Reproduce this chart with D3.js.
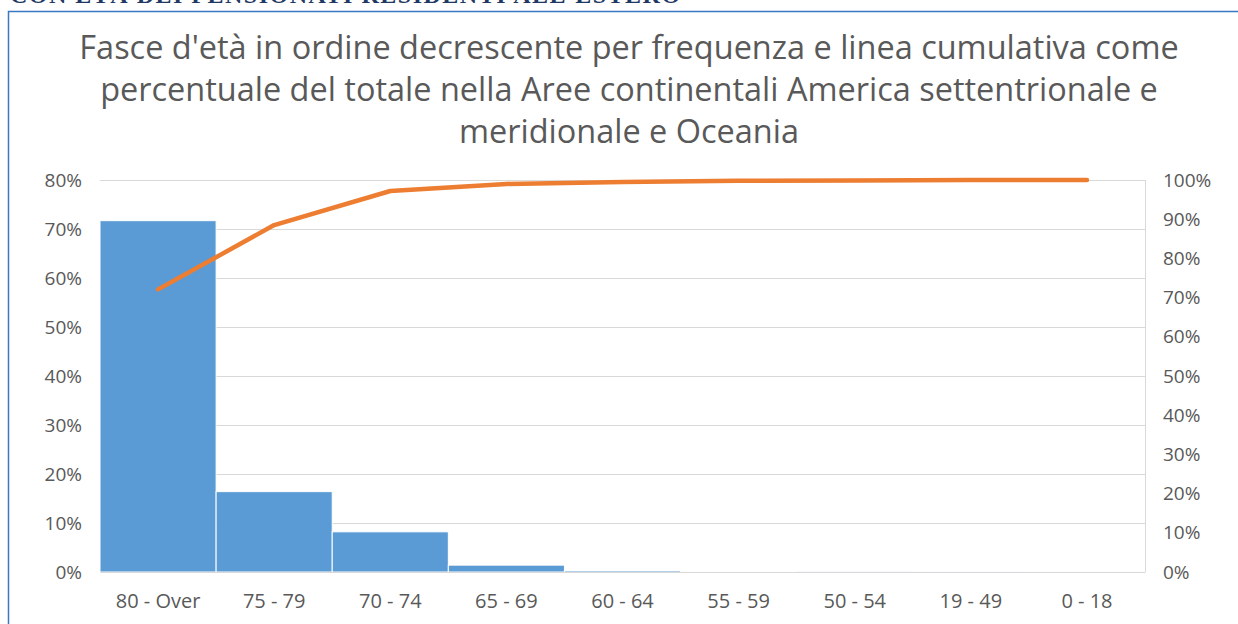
<!DOCTYPE html>
<html>
<head>
<meta charset="utf-8">
<script src="https://cdn.jsdelivr.net/npm/d3@7"></script>
<style>
  html, body { margin: 0; padding: 0; background: #fff; }
  svg { display: block; }
</style>
</head>
<body>
<svg id="chart" width="1238" height="624"></svg>
<script>
// Age bands, ordered by decreasing frequency
const categories = ["80 - Over", "75 - 79", "70 - 74", "65 - 69", "60 - 64", "55 - 59", "50 - 54", "19 - 49", "0 - 18"];
// Share of total per band (%)
const shareValues = [71.7, 16.4, 8.2, 1.4, 0.3, 0.1, 0.05, 0.02, 0.01];
// Cumulative share (%)
const cumulativeValues = [72.1, 88.5, 97.2, 99.0, 99.5, 99.8, 99.9, 100, 100];
// Axis ticks
const leftTicks = [0, 10, 20, 30, 40, 50, 60, 70, 80];
const rightTicks = [0, 10, 20, 30, 40, 50, 60, 70, 80, 90, 100];

const titleLines = [
  "Fasce d'età in ordine decrescente per frequenza e linea cumulativa come",
  "percentuale del totale nella Aree continentali America settentrionale e",
  "meridionale e Oceania"
];

const svg = d3.select("#chart");
const FONT = "'Open Sans', 'Noto Sans', sans-serif";
const GREY = "#595959";

// Page heading, running off the top edge
svg.append("text")
  .attr("x", 10).attr("y", 3)
  .attr("font-family", "'Liberation Serif', serif")
  .attr("font-weight", "bold")
  .attr("font-size", 24)
  .attr("letter-spacing", 1.5)
  .attr("fill", "#1f3864")
  .text("CON ETÀ DEI PENSIONATI RESIDENTI ALL'ESTERO");

// Chart frame
svg.append("rect")
  .attr("x", 8.5).attr("y", 11.5)
  .attr("width", 1300).attr("height", 700)
  .attr("fill", "#fff")
  .attr("stroke", "#3a78c0")
  .attr("stroke-width", 1.5);

// Title
const title = svg.append("g");
const titleSize = 26;
titleLines.forEach((t, i) => {
  title.append("text")
    .attr("x", 629).attr("y", 59 + i * 42)
    .attr("text-anchor", "middle")
    .attr("font-family", FONT)
    .attr("font-size", titleSize)
    .attr("fill", GREY)
    .text(t);
});
// fit first line to its intended width
const first = title.select("text").node();
const w = first.getComputedTextLength();
const fs = titleSize * 1100 / w;
title.selectAll("text").attr("font-size", fs);

// Plot geometry
const plot = { left: 100, right: 1145, top: 180, bottom: 572 };

const x = d3.scaleBand()
  .domain(categories)
  .range([plot.left, plot.right])
  .paddingInner(0).paddingOuter(0);

const yLeft = d3.scaleLinear().domain([0, 80]).range([plot.bottom, plot.top]);
const yRight = d3.scaleLinear().domain([0, 100]).range([plot.bottom, plot.top]);

// Gridlines
svg.append("g")
  .selectAll("line")
  .data(leftTicks)
  .join("line")
  .attr("x1", plot.left).attr("x2", plot.right)
  .attr("y1", d => Math.round(yLeft(d)) + 0.5)
  .attr("y2", d => Math.round(yLeft(d)) + 0.5)
  .attr("stroke", "#d9d9d9")
  .attr("stroke-width", 1);

// Right plot edge
svg.append("line")
  .attr("x1", plot.right + 0.5).attr("x2", plot.right + 0.5)
  .attr("y1", plot.top).attr("y2", plot.bottom)
  .attr("stroke", "#d9d9d9");

// Bars
svg.append("g")
  .selectAll("rect")
  .data(categories.map((c, i) => ({ c, v: shareValues[i] })))
  .join("rect")
  .attr("x", d => x(d.c))
  .attr("width", x.bandwidth())
  .attr("y", d => yLeft(d.v))
  .attr("height", d => yLeft(0) - yLeft(d.v))
  .attr("fill", "#5b9bd5")
  .attr("stroke", "#ffffff")
  .attr("stroke-width", 1);

const TICK_SIZE = 19;

// Left axis
const leftAxis = svg.append("g")
  .attr("transform", `translate(${plot.left},0)`)
  .call(d3.axisLeft(yLeft).tickValues(leftTicks).tickFormat(d => d + "%").tickSize(0).tickPadding(18));
leftAxis.select(".domain").remove();
leftAxis.selectAll("text")
  .attr("font-family", FONT).attr("font-size", TICK_SIZE).attr("fill", GREY);

// Right axis
const rightAxis = svg.append("g")
  .attr("transform", `translate(${plot.right},0)`)
  .call(d3.axisRight(yRight).tickValues(rightTicks).tickFormat(d => d + "%").tickSize(0).tickPadding(18));
rightAxis.select(".domain").remove();
rightAxis.selectAll("text")
  .attr("font-family", FONT).attr("font-size", TICK_SIZE).attr("fill", GREY);

// Bottom axis
const bottomAxis = svg.append("g")
  .attr("transform", `translate(0,${plot.bottom})`)
  .call(d3.axisBottom(x).tickSize(0).tickPadding(22));
bottomAxis.select(".domain")
  .attr("stroke", "#d9d9d9");
bottomAxis.selectAll("text")
  .attr("font-family", FONT).attr("font-size", TICK_SIZE + 1).attr("fill", GREY);

// Cumulative line
const line = d3.line()
  .x((d, i) => x(categories[i]) + x.bandwidth() / 2)
  .y(d => yRight(d));

svg.append("path")
  .datum(cumulativeValues)
  .attr("d", line)
  .attr("fill", "none")
  .attr("stroke", "#ed7d31")
  .attr("stroke-width", 4.5)
  .attr("stroke-linecap", "round")
  .attr("stroke-linejoin", "round");
</script>
</body>
</html>
